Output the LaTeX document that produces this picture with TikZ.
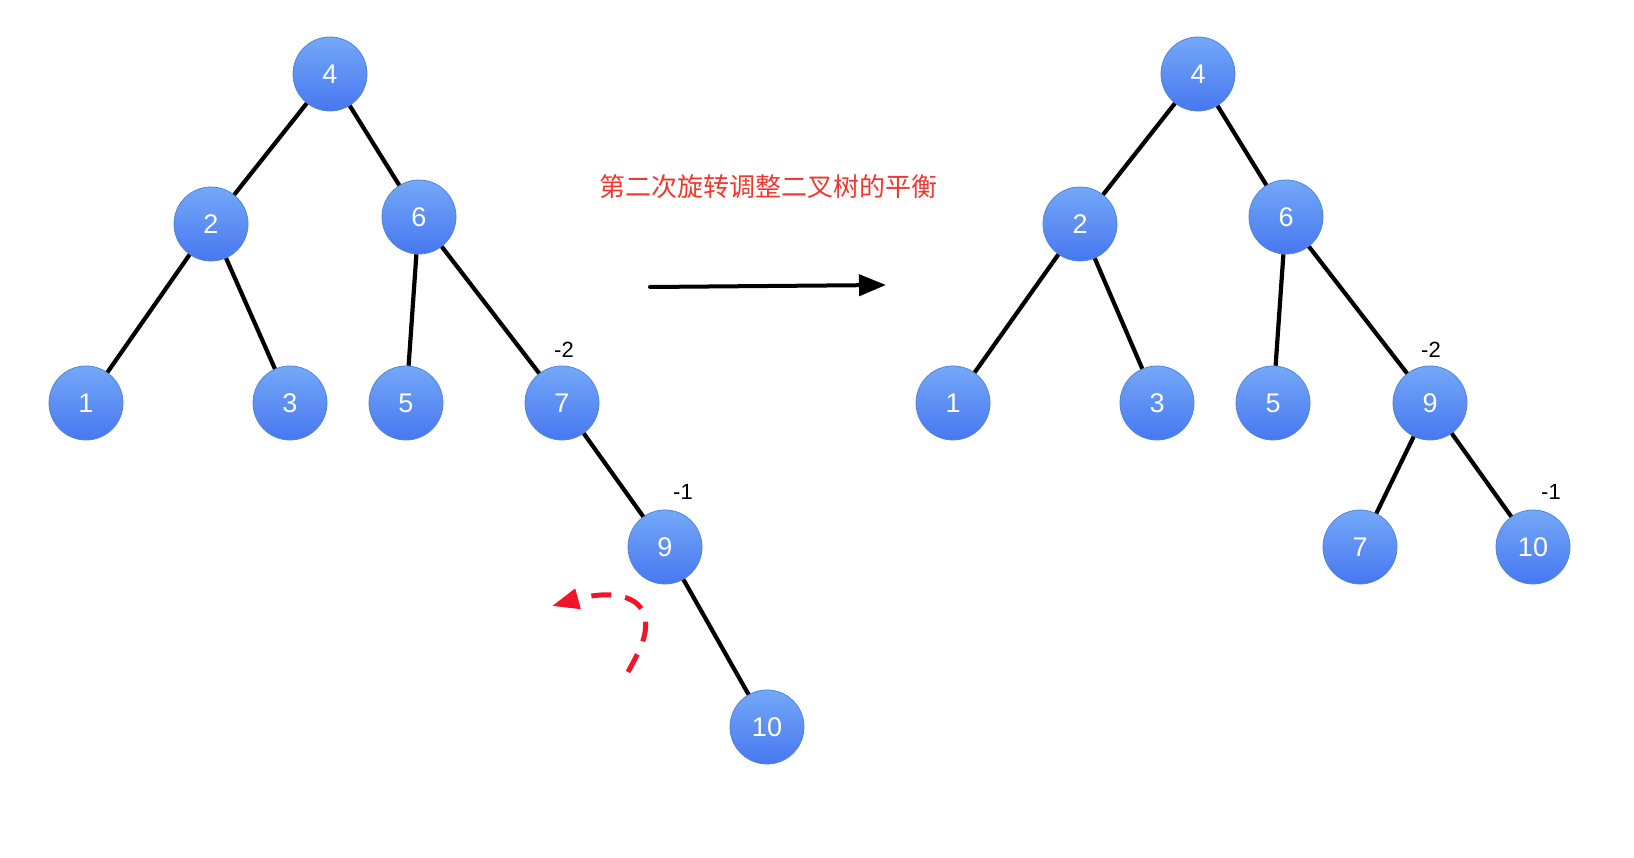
\documentclass[tikz,border=0pt]{standalone}
\usepackage{fontspec}
\setmainfont{Liberation Sans}
\newfontfamily\cjk{Noto Sans CJK SC}
\usetikzlibrary{arrows.meta,shapes.geometric}
\definecolor{nodetop}{HTML}{74A8F8}
\definecolor{nodebot}{HTML}{4777F0}
\definecolor{nodeborder}{HTML}{4F86D6}
\definecolor{titlered}{HTML}{F2382E}
\definecolor{rotred}{HTML}{F0162A}
\tikzset{
  tn/.style={circle, minimum size=74pt, inner sep=0pt, top color=nodetop, bottom color=nodebot, draw=nodeborder, line width=0.8pt, text=white, font=\fontsize{27}{27}\selectfont},
  edge/.style={line width=4.2pt, black},
  bf/.style={font=\fontsize{22}{22}\selectfont, text=black},
}
\begin{document}
\begin{tikzpicture}[x=1pt,y=-1pt]
\useasboundingbox (0,0) rectangle (1634,858);
% left tree
\node[tn] (L4) at (330,74) {4};
\node[tn] (L2) at (211,224) {2};
\node[tn] (L6) at (419,217) {6};
\node[tn] (L1) at (86,403) {1};
\node[tn] (L3) at (290,403) {3};
\node[tn] (L5) at (406,403) {5};
\node[tn] (L7) at (562,403) {7};
\node[tn] (L9) at (665,547) {9};
\node[tn] (L10) at (767,727) {10};
\draw[edge] (L4) -- (L2);
\draw[edge] (L4) -- (L6);
\draw[edge] (L2) -- (L1);
\draw[edge] (L2) -- (L3);
\draw[edge] (L6) -- (L5);
\draw[edge] (L6) -- (L7);
\draw[edge] (L7) -- (L9);
\draw[edge] (L9) -- (L10);
\node[bf] (Lb7) at (564,350) {-2};
\node[bf] (Lb9) at (683,492) {-1};
% rotation hint
\coordinate (rs) at (628,672);
\coordinate (rm) at (645,618);
\coordinate (re) at (552,606);
\draw[rotred, line width=5pt, dash pattern=on 20pt off 14pt, -{Triangle[length=27pt,width=20pt]}]
  (rs) .. controls (640,650) and (648,635) .. (rm)
       .. controls (641,595) and (610,590) .. (re);
% title and arrow
\node[text=titlered, font=\cjk\fontsize{26}{26}\selectfont] (title) at (768,187) {第二次旋转调整二叉树的平衡};
\coordinate (as) at (650,287);
\coordinate (ae) at (886,285);
\draw[line width=4pt, line cap=round, -{Triangle[length=27pt,width=21pt]}] (as) -- (ae);
% right tree
\node[tn] (R4) at (1198,74) {4};
\node[tn] (R2) at (1080,224) {2};
\node[tn] (R6) at (1286,217) {6};
\node[tn] (R1) at (953,403) {1};
\node[tn] (R3) at (1157,403) {3};
\node[tn] (R5) at (1273,403) {5};
\node[tn] (R9) at (1430,403) {9};
\node[tn] (R7) at (1360,547) {7};
\node[tn] (R10) at (1533,547) {10};
\draw[edge] (R4) -- (R2);
\draw[edge] (R4) -- (R6);
\draw[edge] (R2) -- (R1);
\draw[edge] (R2) -- (R3);
\draw[edge] (R6) -- (R5);
\draw[edge] (R6) -- (R9);
\draw[edge] (R9) -- (R7);
\draw[edge] (R9) -- (R10);
\node[bf] (Rb9) at (1431,350) {-2};
\node[bf] (Rb10) at (1551,492) {-1};
\end{tikzpicture}
\end{document}
